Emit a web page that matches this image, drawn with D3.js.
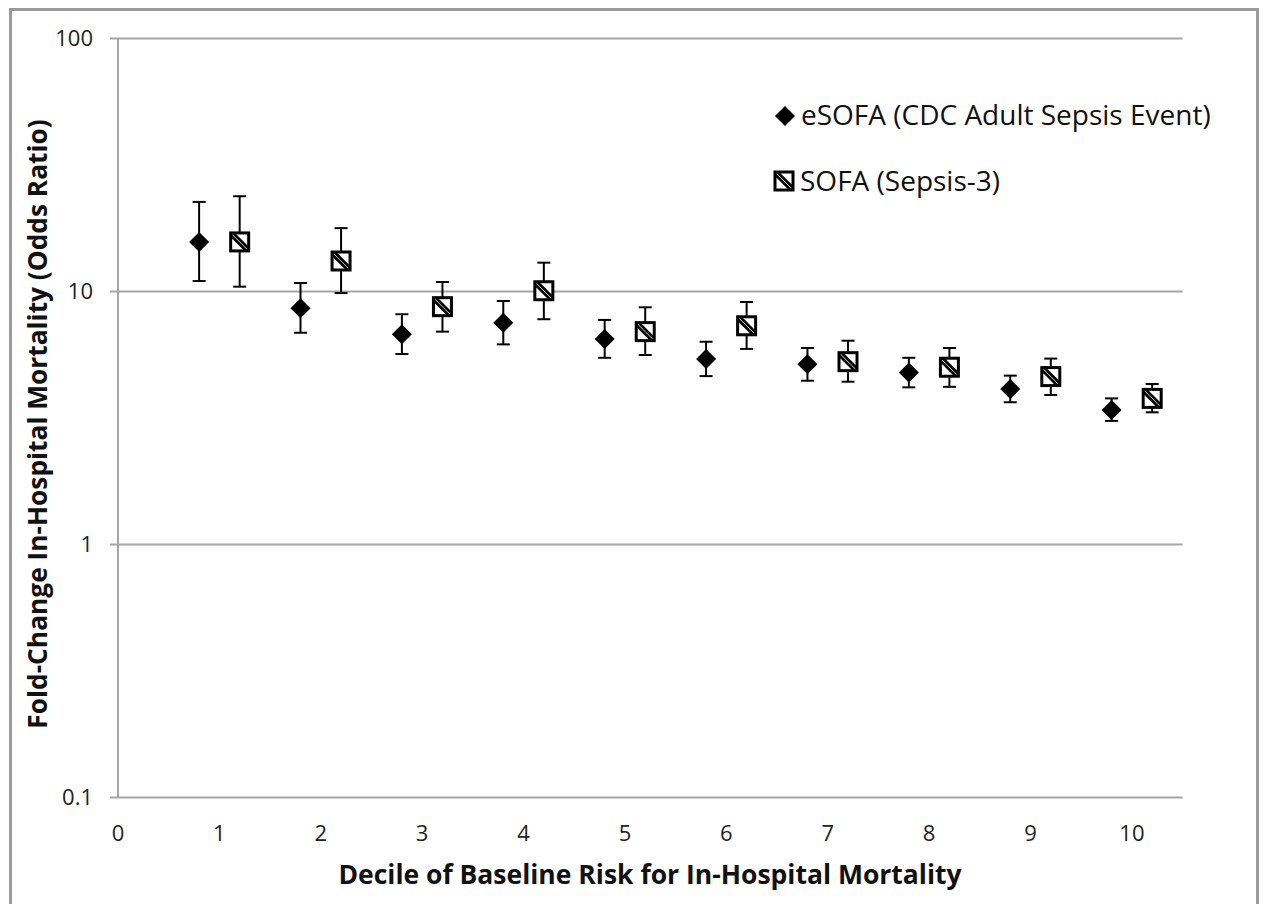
<!DOCTYPE html>
<html><head><meta charset="utf-8">
<script src="https://cdn.jsdelivr.net/npm/d3@7"></script>
<style>body{margin:0;background:#fff} svg{display:block}</style>
</head><body><svg id="c" width="1266" height="904"></svg>
<script>
const deciles = [1,2,3,4,5,6,7,8,9,10];
const esofaOR  = [15.7, 8.58, 6.77, 7.53, 6.49, 5.41, 5.16, 4.78, 4.12, 3.40];
const esofaLo  = [11.0, 6.87, 5.66, 6.18, 5.47, 4.63, 4.44, 4.18, 3.65, 3.08];
const esofaHi  = [22.6, 10.8, 8.13, 9.17, 7.72, 6.33, 5.98, 5.47, 4.65, 3.78];
const sofaOR   = [15.7, 13.2, 8.71, 10.07, 6.94, 7.32, 5.28, 5.02, 4.61, 3.78];
const sofaLo   = [10.45, 9.86, 6.94, 7.77, 5.61, 5.93, 4.40, 4.20, 3.90, 3.33];
const sofaHi   = [23.8, 17.8, 10.9, 13.0, 8.66, 9.09, 6.39, 5.98, 5.43, 4.31];
const xTicks = [0,1,2,3,4,5,6,7,8,9,10];
const yTicks = [0.1, 1, 10, 100];
const yTickLabels = ["0.1", "1", "10", "100"];
const seriesNames = ["eSOFA (CDC Adult Sepsis Event)", "SOFA (Sepsis-3)"];
const xTitle = "Decile of Baseline Risk for In-Hospital Mortality";
const yTitle = "Fold-Change In-Hospital Mortality (Odds Ratio)";

const svg = d3.select("#c");
const FONT = "'Open Sans', sans-serif";
const x = d3.scaleLinear().domain([0, 10.5]).range([118, 1182.6]);
const y = d3.scaleLog().domain([0.1, 100]).range([797.5, 38.5]);
const grid = "#a6a6a6";

// outer frame
svg.append("rect").attr("x", 10.5).attr("y", 9.5).attr("width", 1247).attr("height", 910)
  .attr("fill", "none").attr("stroke", "#9a9a9a").attr("stroke-width", 3);

// gridlines
svg.append("g").selectAll("line").data(yTicks).join("line")
  .attr("x1", 110).attr("x2", x(10.5)).attr("y1", d => y(d)).attr("y2", d => y(d))
  .attr("stroke", grid).attr("stroke-width", 2);
// y axis line
svg.append("line").attr("x1", x(0)).attr("x2", x(0)).attr("y1", y(100)).attr("y2", y(0.1))
  .attr("stroke", grid).attr("stroke-width", 2);

// tick labels
svg.append("g").selectAll("text").data(yTicks).join("text")
  .attr("x", 93).attr("y", d => y(d)).attr("dy", "0.35em").attr("text-anchor", "end")
  .attr("font-family", FONT).attr("font-size", 22).attr("fill", "#222")
  .text((d, i) => yTickLabels[i]);
svg.append("g").selectAll("text").data(xTicks).join("text")
  .attr("x", d => x(d)).attr("y", 833).attr("dy", "0.35em").attr("text-anchor", "middle")
  .attr("font-family", FONT).attr("font-size", 22).attr("fill", "#222")
  .text(d => d);

// titles
svg.append("text").attr("x", 650).attr("y", 884).attr("text-anchor", "middle")
  .attr("font-family", FONT).attr("font-weight", "bold").attr("font-size", 26.5).attr("fill", "#111")
  .text(xTitle);
svg.append("text").attr("transform", "translate(47,424) rotate(-90)").attr("text-anchor", "middle")
  .attr("font-family", FONT).attr("font-weight", "bold").attr("font-size", 26.3).attr("fill", "#111")
  .text(yTitle);

// markers
const defs = svg.append("defs");
defs.append("clipPath").attr("id", "sqclip").append("rect")
  .attr("x", -9).attr("y", -9).attr("width", 18).attr("height", 18);
function drawSquare(g) {
  g.append("rect").attr("x", -9).attr("y", -9).attr("width", 18).attr("height", 18)
    .attr("fill", "#fff").attr("stroke", "none");
  g.append("line").attr("x1", -10).attr("y1", -10).attr("x2", 10).attr("y2", 10)
    .attr("stroke", "#000").attr("stroke-width", 6).attr("clip-path", "url(#sqclip)");
  g.append("line").attr("x1", -10).attr("y1", -10).attr("x2", 10).attr("y2", 10)
    .attr("stroke", "#fff").attr("stroke-width", 0.8).attr("clip-path", "url(#sqclip)");
  g.append("rect").attr("x", -9).attr("y", -9).attr("width", 18).attr("height", 18)
    .attr("fill", "none").attr("stroke", "#000").attr("stroke-width", 3);
}
const diamond = d3.symbol(d3.symbolSquare, 200);
function drawDiamond(g) {
  g.append("path").attr("d", diamond()).attr("transform", "rotate(45)").attr("fill", "#000");
}

function errorBars(off, lo, hi) {
  const g = svg.append("g").attr("stroke", "#000").attr("stroke-width", 2);
  deciles.forEach((d, i) => {
    const cx = x(d + off);
    g.append("line").attr("x1", cx).attr("x2", cx).attr("y1", y(hi[i])).attr("y2", y(lo[i]));
    g.append("line").attr("x1", cx - 6.5).attr("x2", cx + 6.5).attr("y1", y(hi[i])).attr("y2", y(hi[i]));
    g.append("line").attr("x1", cx - 6.5).attr("x2", cx + 6.5).attr("y1", y(lo[i])).attr("y2", y(lo[i]));
  });
}
errorBars(-0.2, esofaLo, esofaHi);
errorBars(0.2, sofaLo, sofaHi);

deciles.forEach((d, i) => {
  drawDiamond(svg.append("g").attr("transform", `translate(${x(d - 0.2)},${y(esofaOR[i])})`));
  drawSquare(svg.append("g").attr("transform", `translate(${x(d + 0.2)},${y(sofaOR[i])})`));
});

// legend
drawDiamond(svg.append("g").attr("transform", "translate(785,116)"));
drawSquare(svg.append("g").attr("transform", "translate(784,181)"));
svg.append("text").attr("x", 801).attr("y", 125)
  .attr("font-family", FONT).attr("font-size", 28).attr("fill", "#111").text(seriesNames[0]);
svg.append("text").attr("x", 800).attr("y", 191)
  .attr("font-family", FONT).attr("font-size", 28).attr("fill", "#111").text(seriesNames[1]);
</script>
</body></html>
